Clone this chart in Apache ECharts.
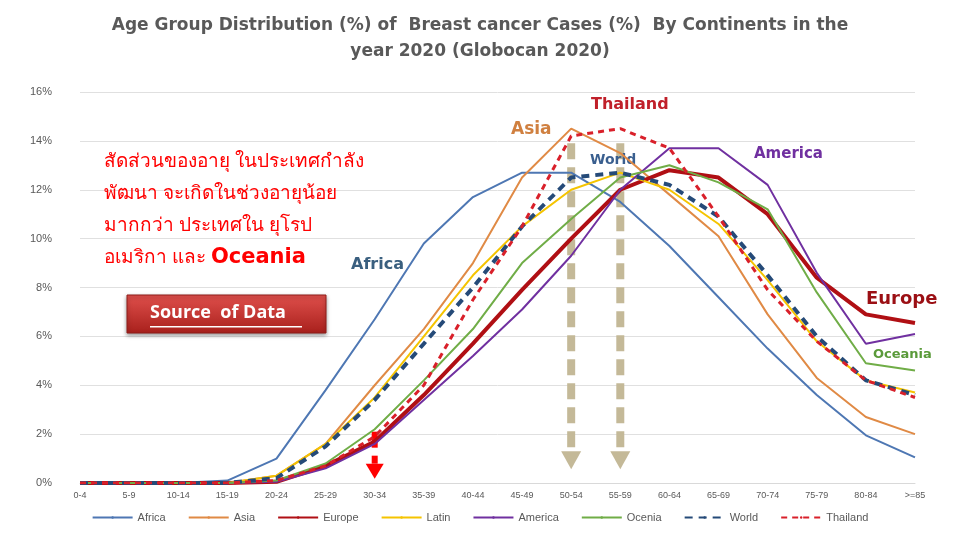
<!DOCTYPE html>
<html>
<head>
<meta charset="utf-8">
<script src="https://cdn.jsdelivr.net/npm/echarts@6/dist/echarts.min.js"></script>
<style>html,body{margin:0;padding:0;background:#fff}#c{width:960px;height:540px}</style>
</head>
<body>
<div id="c"></div>
<script>
// age groups
var ages = ['0-4','5-9','10-14','15-19','20-24','25-29','30-34','35-39','40-44','45-49','50-54','55-59','60-64','65-69','70-74','75-79','80-84','>=85'];

var africa   = [0,0,0,0.1,1.0,3.8,6.7,9.8,11.7,12.7,12.7,11.5,9.7,7.6,5.5,3.6,1.95,1.05];
var asia     = [0,0,0,0,0.3,1.6,4.0,6.3,9.0,12.5,14.5,13.5,11.8,10.1,6.9,4.3,2.7,2.0];
var europe   = [0,0,0,0,0.05,0.7,1.7,3.6,5.7,7.9,10.0,12.0,12.8,12.5,11.0,8.4,6.9,6.55];
var latin    = [0,0,0,0,0.3,1.6,3.5,6.0,8.5,10.5,12.0,12.7,12.0,10.6,8.3,5.8,4.2,3.7];
var america  = [0,0,0,0,0.05,0.6,1.6,3.4,5.2,7.1,9.3,12.0,13.7,13.7,12.2,8.6,5.7,6.1];
var oceania  = [0,0,0,0,0.1,0.8,2.2,4.2,6.3,9.0,10.8,12.5,13.0,12.3,11.2,7.8,4.9,4.6];
var world    = [0,0,0,0,0.2,1.5,3.4,5.7,8.0,10.5,12.5,12.7,12.2,10.9,8.5,6.0,4.2,3.6];
var thailand = [0,0,0,0,0.1,0.7,1.9,4.0,7.5,10.5,14.2,14.5,13.7,10.9,7.9,5.8,4.2,3.5];

var chart = echarts.init(document.getElementById('c'));

function line(name, data, color, width, dash) {
    return {
        name: name, type: 'line', data: data, symbol: 'none',
        lineStyle: {color: color, width: width, type: dash || 'solid'},
        itemStyle: {color: color}
    };
}

var option = {
    animation: false,
    title: {
        text: 'Age Group Distribution (%) of  Breast cancer Cases (%)  By Continents in the\nyear 2020 (Globocan 2020)',
        left: 'center', top: 8,
        textStyle: {color: '#595959', fontSize: 17, fontWeight: 'bold', fontFamily: 'DejaVu Sans', lineHeight: 26}
    },
    grid: {left: 80, right: 45, top: 92, bottom: 57},
    legend: {
        bottom: 12, itemGap: 22, itemWidth: 40, itemHeight: 3,
        textStyle: {fontSize: 11, color: '#595959'},
        data: ['Africa','Asia','Europe','Latin','America','Ocenia','World','Thailand']
    },
    xAxis: {
        type: 'category', data: ages, boundaryGap: false,
        axisLine: {lineStyle: {color: '#d9d9d9'}}, axisTick: {show: false},
        axisLabel: {color: '#595959', fontSize: 9, interval: 0}
    },
    yAxis: {
        type: 'value', min: 0, max: 16, interval: 2,
        axisLabel: {formatter: '{value}%', color: '#595959', fontSize: 11, margin: 28},
        splitLine: {lineStyle: {color: '#e0e0e0'}}
    },
    series: [
        line('Africa', africa, '#4e77b3', 2),
        line('Asia', asia, '#e08a45', 2),
        line('Europe', europe, '#b00f14', 4),
        line('Latin', latin, '#f5c400', 2),
        line('America', america, '#7030a0', 2),
        line('Ocenia', oceania, '#70ad47', 2),
        line('World', world, '#254a78', 4, [8, 6]),
        line('Thailand', thailand, '#d9202a', 3, [6, 5])
    ]
};
chart.setOption(option);

function px(i, v) { return chart.convertToPixel({gridIndex: 0}, [i, v]); }

var g = [];
// tan dashed arrows at 50-54 and 55-59
[10, 11].forEach(function (i) {
    var top = px(i, 13.9), bot = px(i, 1.3);
    g.push({type: 'line', shape: {x1: top[0], y1: top[1], x2: bot[0], y2: bot[1]},
        style: {stroke: '#c4b998', lineWidth: 8, lineDash: [16, 8]}});
    g.push({type: 'polygon', shape: {points: [[bot[0]-10, bot[1]], [bot[0]+10, bot[1]], [bot[0], bot[1]+18]]},
        style: {fill: '#c4b998'}});
});
// red arrow at 30-34
var r = px(6, 2.1);
g.push({type: 'rect', shape: {x: r[0]-3, y: r[1], width: 6, height: 16}, style: {fill: '#ff0000'}});
g.push({type: 'rect', shape: {x: r[0]-3, y: r[1]+24, width: 6, height: 8}, style: {fill: '#ff0000'}});
g.push({type: 'polygon', shape: {points: [[r[0]-9, r[1]+32], [r[0]+9, r[1]+32], [r[0], r[1]+47]]}, style: {fill: '#ff0000'}});

// series labels
function lab(text, x, y, color, size) {
    g.push({type: 'text', left: x, top: y, style: {text: text, fill: color, fontSize: size, fontWeight: 'bold', fontFamily: 'DejaVu Sans'}});
}
lab('Thailand', 591, 97, '#c0202a', 16);
lab('Asia', 511, 121, '#d08040', 17);
lab('World', 590, 153, '#3a5f8f', 14);
lab('America', 754, 147, '#7030a0', 15);
lab('Africa', 351, 257, '#3a5f7f', 16);
lab('Europe', 866, 290, '#9b0f14', 18);
lab('Oceania', 873, 348, '#5a9a3a', 13);

// Thai text
g.push({type: 'text', left: 104, top: 146, style: {
    text: 'สัดส่วนของอายุ ในประเทศกำลัง\nพัฒนา จะเกิดในช่วงอายุน้อย\nมากกว่า ประเทศใน ยุโรป\nอเมริกา และ {b|Oceania}',
    fill: '#ff0000', fontSize: 19, lineHeight: 32, fontFamily: 'Noto Sans',
    rich: {b: {fill: '#ff0000', fontSize: 21, fontWeight: 'bold', fontFamily: 'DejaVu Sans'}}
}});

// source of data button
g.push({type: 'rect', shape: {x: 127, y: 295, width: 199, height: 38},
    style: {fill: new echarts.graphic.LinearGradient(0, 0, 0, 1, [{offset: 0, color: '#e0504c'}, {offset: 1, color: '#a8201c'}]),
        stroke: '#8f1c18', lineWidth: 1, shadowBlur: 4, shadowColor: 'rgba(0,0,0,0.4)', shadowOffsetY: 2}});
g.push({type: 'text', left: 150, top: 304, style: {text: 'Source  of Data', fill: '#fff', fontSize: 18, fontWeight: 'bold', fontFamily: 'Open Sans'}});
g.push({type: 'rect', shape: {x: 150, y: 326, width: 152, height: 1.5}, style: {fill: '#fff'}});

chart.setOption({graphic: g});
</script>
</body>
</html>
